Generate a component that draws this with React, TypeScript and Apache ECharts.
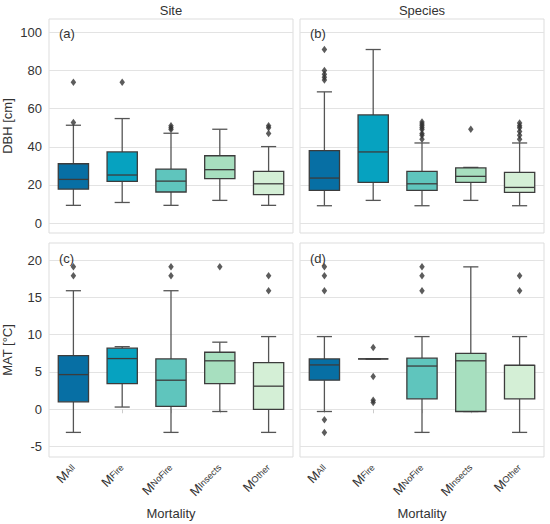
import { useEffect, useRef } from 'react';
import * as echarts from 'echarts';

// mortality groups (x axis), shown as M with subscript
const categories = ['All', 'Fire', 'NoFire', 'Insects', 'Other'];
const boxColors = ['#076fa4', '#06a2c0', '#5fc5bd', '#a7dfbf', '#d4efd6'];

// [min, Q1, median, Q3, max]
const dbhSite = [
  [9.3, 17.8, 22.9, 31.1, 51.3],
  [10.8, 21.9, 25.2, 37.3, 54.8],
  [9.3, 16.3, 22.0, 28.3, 47.1],
  [11.9, 23.3, 28.0, 35.3, 49.2],
  [9.3, 14.9, 20.6, 27.1, 40.1],
];
const dbhSiteOut = [[52.8, 73.8], [73.8], [49, 50, 51], [], [47, 50, 51]];

const dbhSpecies = [
  [9.1, 17.1, 23.6, 38.0, 68.8],
  [11.9, 21.3, 37.3, 56.7, 91.0],
  [9.1, 17.1, 20.6, 27.1, 42.0],
  [11.9, 21.3, 24.5, 28.9, 29.2],
  [9.1, 16.1, 18.7, 26.6, 42.0],
];
const dbhSpeciesOut = [
  [75, 76.5, 78, 80, 91],
  [],
  [44, 46, 47, 49, 50, 51, 52, 53],
  [49.2],
  [44, 46, 48, 50, 51, 52.5],
];

const matSite = [
  [-3.1, 1.0, 4.65, 7.2, 15.9],
  [0.3, 3.45, 6.8, 8.2, 8.4],
  [-3.1, 0.4, 3.9, 6.75, 15.9],
  [-0.3, 3.45, 6.5, 7.65, 9.0],
  [-3.1, 0.0, 3.1, 6.25, 9.75],
];
const matSiteOut = [[17.9, 19.1], [], [17.9, 19.1], [19.1], [15.9, 17.9]];

const matSpecies = [
  [-0.3, 3.9, 5.95, 6.75, 9.75],
  [6.75, 6.75, 6.75, 6.75, 6.75],
  [-3.1, 1.4, 5.8, 6.85, 9.75],
  [-0.3, -0.3, 6.5, 7.5, 19.1],
  [-3.1, 1.4, 5.9, 5.9, 9.75],
];
const matSpeciesOut = [
  [-3.1, -1.4, 15.9, 17.9, 19.1],
  [0.9, 1.2, 4.4, 8.3],
  [15.9, 17.9, 19.1],
  [],
  [15.9, 17.9],
];

const dbhTicks = [0, 20, 40, 60, 80, 100];
const matTicks = [-5, 0, 5, 10, 15, 20];
const dbhRange = [-5.2, 107];
const matRange = [-6.4, 22.3];

const font = 'Liberation Sans, Arial, sans-serif';
const textColor = '#333';
const subSize = 9;

const measure = (text: string, size: number) => {
  const ctx = document.createElement('canvas').getContext('2d');
  if (!ctx) return text.length * size * 0.55;
  ctx.font = `${size}px sans-serif`;
  return ctx.measureText(text).width;
};

const renderBox = (params: any, api: any) => {
  const idx = api.value(0);
  const bw = api.size([1, 0])[0] * 0.62;
  const half = bw / 2;
  const pMin = api.coord([idx, api.value(1)]);
  const pQ1 = api.coord([idx, api.value(2)]);
  const pMed = api.coord([idx, api.value(3)]);
  const pQ3 = api.coord([idx, api.value(4)]);
  const pMax = api.coord([idx, api.value(5)]);
  const x = pMed[0];
  const lineStyle = { stroke: '#555', lineWidth: 1.3 };
  return {
    type: 'group',
    children: [
      { type: 'line', shape: { x1: x, y1: pQ3[1], x2: x, y2: pMax[1] }, style: lineStyle },
      { type: 'line', shape: { x1: x, y1: pQ1[1], x2: x, y2: pMin[1] }, style: lineStyle },
      { type: 'line', shape: { x1: x - half / 2, y1: pMax[1], x2: x + half / 2, y2: pMax[1] }, style: lineStyle },
      { type: 'line', shape: { x1: x - half / 2, y1: pMin[1], x2: x + half / 2, y2: pMin[1] }, style: lineStyle },
      {
        type: 'rect',
        shape: { x: x - half, y: pQ3[1], width: bw, height: pQ1[1] - pQ3[1] },
        style: { fill: boxColors[idx], stroke: '#3c3c3c', lineWidth: 1.3 },
      },
      { type: 'line', shape: { x1: x - half, y1: pMed[1], x2: x + half, y2: pMed[1] }, style: { stroke: '#3c3c3c', lineWidth: 1.3 } },
    ],
  };
};

const boxSeries = (stats: number[][], gi: number) => ({
  type: 'custom',
  xAxisIndex: gi,
  yAxisIndex: gi,
  renderItem: renderBox,
  encode: { x: 0, y: [1, 2, 3, 4, 5] },
  data: stats.map((s, i) => [i, ...s]),
  z: 2,
});

const outlierSeries = (outs: number[][], gi: number) => ({
  type: 'scatter',
  xAxisIndex: gi,
  yAxisIndex: gi,
  symbol: 'diamond',
  symbolSize: [5.5, 7.5],
  itemStyle: { color: '#333' },
  data: outs.flatMap((vals, i) => vals.map((v) => [i, v])),
  z: 3,
});

const App = () => {
  const chartRef = useRef<HTMLDivElement>(null);

  useEffect(() => {
    if (!chartRef.current) return;
    const chart = echarts.init(chartRef.current, undefined, { renderer: 'svg' });

    const grids = [
      { left: 49, top: 19, width: 244, height: 214 },
      { left: 300, top: 19, width: 244, height: 214 },
      { left: 49, top: 243, width: 244, height: 214 },
      { left: 300, top: 243, width: 244, height: 214 },
    ].map((g) => ({ ...g, show: true, borderColor: '#dddddd', borderWidth: 1, backgroundColor: '#fff' }));

    // main x axes: the big "M", padded on its right by the width of its subscript
    const xAxis: any[] = grids.map((_, i) => ({
      type: 'category',
      gridIndex: i,
      position: 'bottom',
      data: categories.map((c) => ({ value: c, textStyle: { padding: [0, measure(c, subSize), 0, 0] } })),
      axisLine: { show: false },
      axisTick: { show: i >= 2, length: 4, alignWithLabel: true, lineStyle: { color: '#cccccc' } },
      axisLabel: { show: i >= 2, rotate: 45, margin: 9, fontSize: 13, color: textColor, formatter: () => 'M' },
      name: i >= 2 ? 'Mortality' : '',
      nameLocation: 'middle',
      nameGap: 50,
      nameTextStyle: { fontSize: 13, fontFamily: font, color: textColor },
    }));
    // second x axes on the bottom grids carry the subscripts
    [2, 3].forEach((gi) => {
      xAxis.push({
        type: 'category',
        gridIndex: gi,
        position: 'bottom',
        offset: 0,
        data: categories,
        axisLine: { show: false },
        axisTick: { show: false },
        splitLine: { show: false },
        axisLabel: { rotate: 45, margin: 9, fontSize: subSize, color: textColor, padding: [7, 0, 0, 0] },
      });
    });

    const yAxis = grids.map((_, i) => {
      const top = i < 2;
      const ticks = top ? dbhTicks : matTicks;
      const range = top ? dbhRange : matRange;
      return {
        type: 'value',
        gridIndex: i,
        min: range[0],
        max: range[1],
        axisLine: { show: false },
        axisTick: { show: false, customValues: ticks },
        axisLabel: {
          show: i % 2 === 0,
          customValues: ticks,
          margin: 7,
          fontSize: 13,
          fontFamily: font,
          color: textColor,
        },
        splitLine: { show: true, lineStyle: { color: '#e3e3e3', width: 1 } },
        name: i === 0 ? 'DBH [cm]' : i === 2 ? 'MAT [°C]' : '',
        nameLocation: 'middle',
        nameGap: 35,
        nameTextStyle: { fontSize: 13, fontFamily: font, color: textColor },
      };
    });

    const labelText = (text: string, x: number, y: number, align = 'left') => ({
      type: 'text',
      x,
      y,
      style: { text, fontSize: 13, fontFamily: font, fill: textColor, textAlign: align, textVerticalAlign: 'middle' },
      z: 10,
    });

    chart.setOption({
      animation: false,
      backgroundColor: '#fff',
      grid: grids,
      xAxis,
      yAxis,
      graphic: [
        labelText('Site', 171, 10, 'center'),
        labelText('Species', 422, 10, 'center'),
        labelText('(a)', 59, 33),
        labelText('(b)', 310, 33),
        labelText('(c)', 59, 258),
        labelText('(d)', 310, 258),
      ],
      series: [
        boxSeries(dbhSite, 0),
        outlierSeries(dbhSiteOut, 0),
        boxSeries(dbhSpecies, 1),
        outlierSeries(dbhSpeciesOut, 1),
        boxSeries(matSite, 2),
        outlierSeries(matSiteOut, 2),
        boxSeries(matSpecies, 3),
        outlierSeries(matSpeciesOut, 3),
      ],
    });

    return () => {
      chart.dispose();
    };
  }, []);

  return (
    <div
      ref={chartRef}
      style={{ position: 'absolute', left: 0, top: 0, width: 550, height: 524 }}
    />
  );
};

export default App;
